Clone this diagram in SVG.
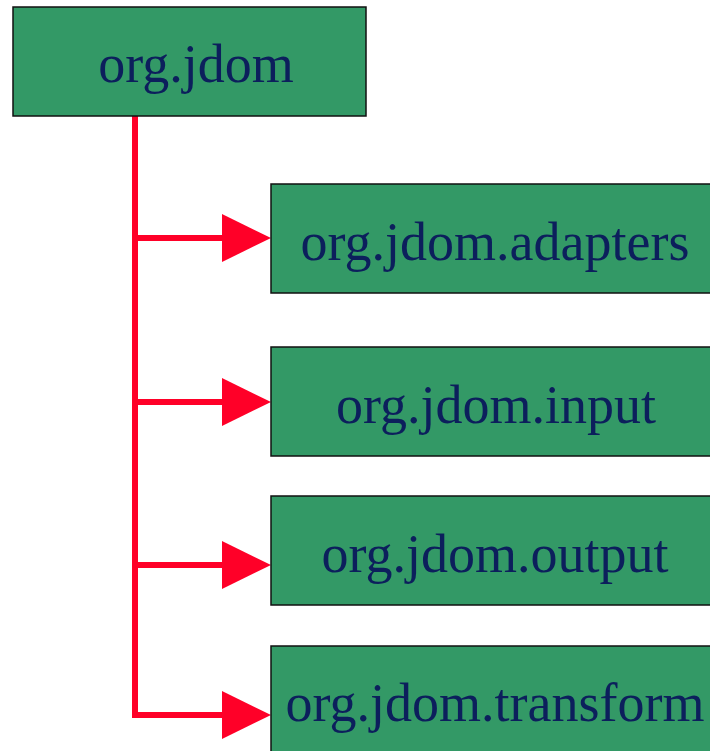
<svg xmlns="http://www.w3.org/2000/svg" width="710" height="751" viewBox="0 0 710 751">
  <style>
    .box { fill: #339966; stroke: #111111; stroke-width: 1.5; }
    .lbl { font-family: "Liberation Serif", "Times New Roman", serif; font-size: 54px; fill: #0c1f5c; text-anchor: middle; }
    .wire { stroke: #ff0028; stroke-width: 6; fill: none; }
    .head { fill: #ff0028; }
  </style>
  <rect width="710" height="751" fill="#ffffff"/>

  <g id="connectors">
    <path class="wire" d="M135 116 V715"/>
    <path class="wire" d="M135 238 H224 M135 402 H224 M135 565 H224 M132 715 H224"/>
    <polygon class="head" points="222,214 271,238 222,262"/>
    <polygon class="head" points="222,378 271,402 222,426"/>
    <polygon class="head" points="222,541 271,565 222,589"/>
    <polygon class="head" points="222,691 271,715 222,739"/>
  </g>

  <g id="org-jdom">
    <rect class="box" x="13" y="7" width="353" height="109"/>
    <text class="lbl" x="196" y="82">org.jdom</text>
  </g>
  <g id="org-jdom-adapters">
    <rect class="box" x="271" y="184" width="445" height="109"/>
    <text class="lbl" x="495" y="260">org.jdom.adapters</text>
  </g>
  <g id="org-jdom-input">
    <rect class="box" x="271" y="347" width="445" height="109"/>
    <text class="lbl" x="496" y="423">org.jdom.input</text>
  </g>
  <g id="org-jdom-output">
    <rect class="box" x="271" y="496" width="445" height="109"/>
    <text class="lbl" x="495" y="572">org.jdom.output</text>
  </g>
  <g id="org-jdom-transform">
    <rect class="box" x="271" y="646" width="445" height="109"/>
    <text class="lbl" x="495" y="721">org.jdom.transform</text>
  </g>
</svg>
